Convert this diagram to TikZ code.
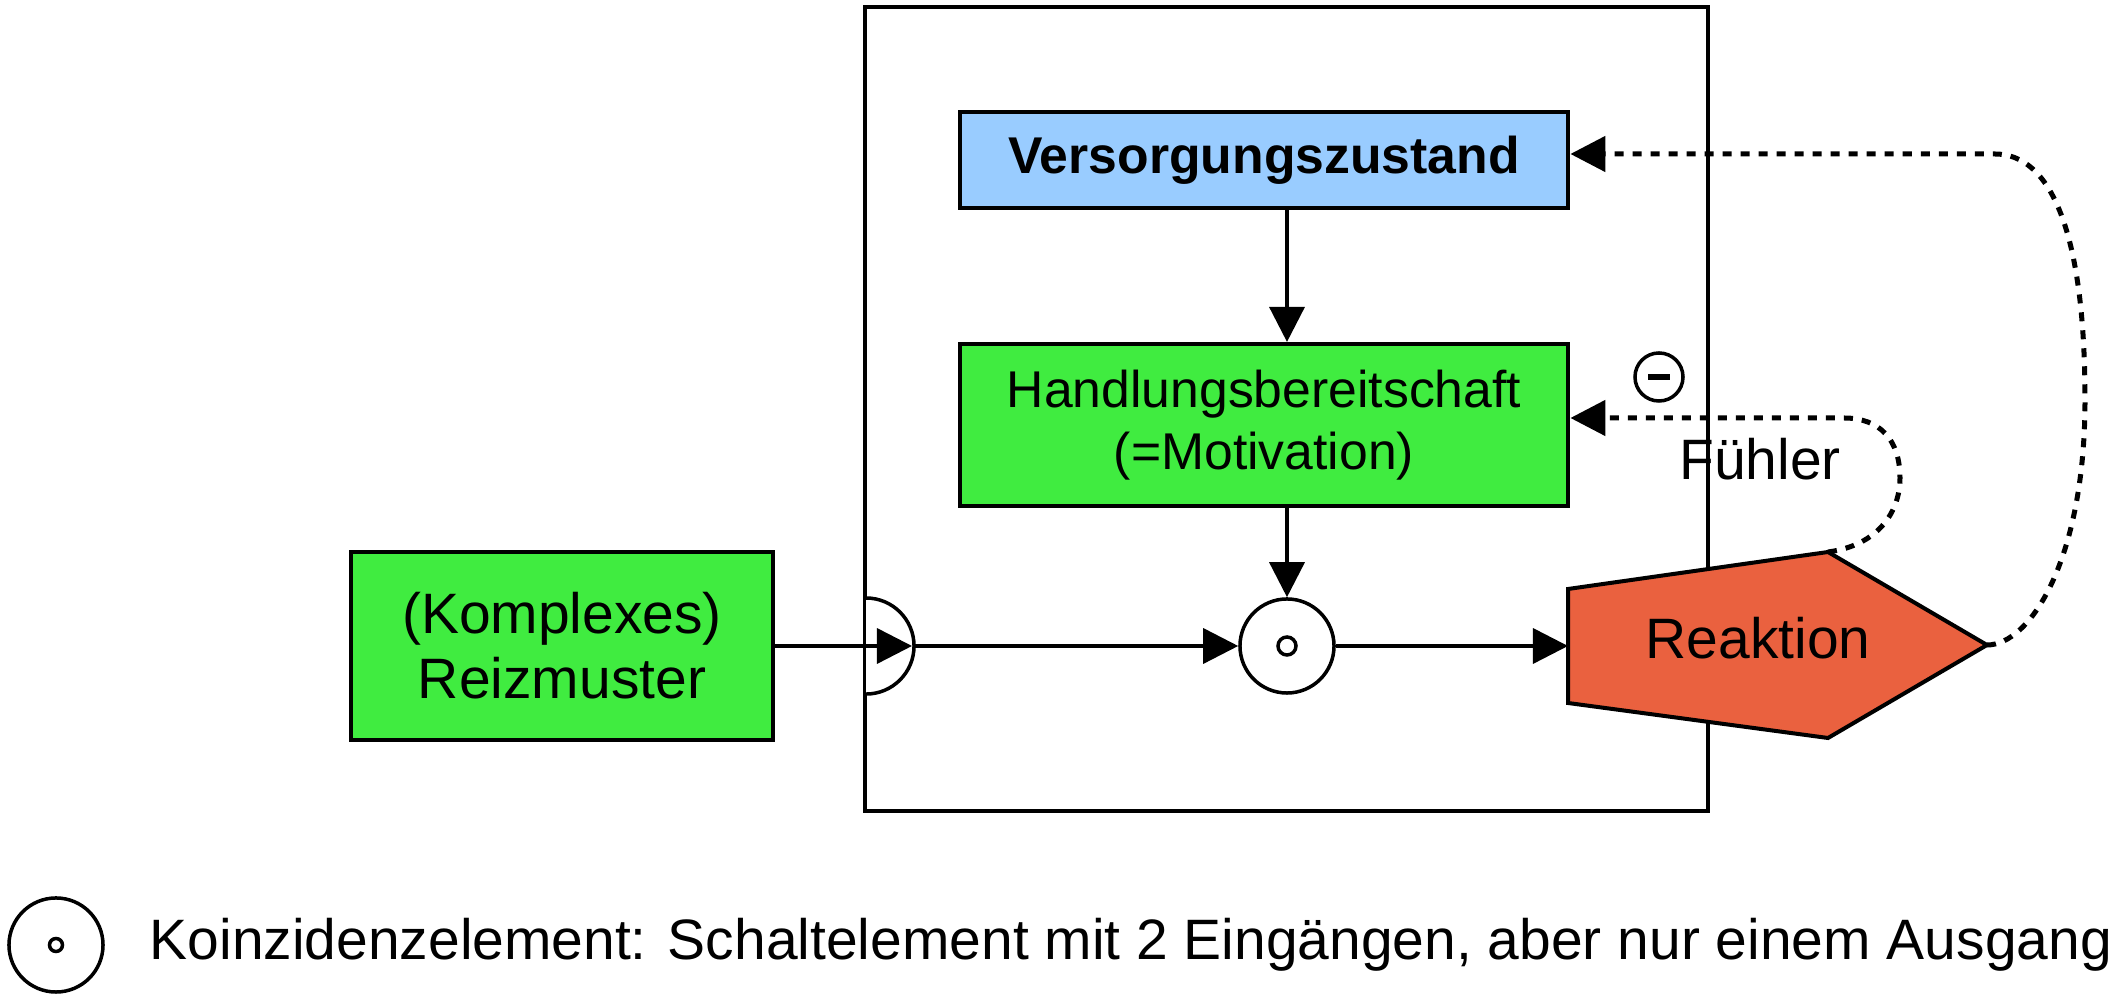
\documentclass[tikz,border=0pt]{standalone}
\usepackage{fontspec}
\setmainfont{Liberation Sans}
\usetikzlibrary{arrows.meta,calc}

\definecolor{reizgreen}{HTML}{40EC40}
\definecolor{versorgblue}{HTML}{99CCFF}
\definecolor{reaktionred}{HTML}{EA613F}

\newcommand\bigfont{\fontsize{16.2}{18.5}\selectfont}
\newcommand\boxfont{\fontsize{14.7}{17.6}\selectfont}
\newcommand\defreaktion{%
      \coordinate (r1) at (1568, 589);
      \coordinate (r2) at (1828, 552);
      \coordinate (r3) at (1987, 645);
      \coordinate (r4) at (1828, 738);
      \coordinate (r5) at (1568, 703);
    }
\newcommand\plotkoinz[2]{\draw[line width=0.035cm] (#1) circle (#2);}

\tikzset{
  box/.style={draw, line width=0.04cm, inner sep=0pt, align=center},
  koinz/.style={draw, circle, line width=0.035cm, minimum size=0.94cm, inner sep=0pt},
  conn/.style={line width=0.035cm, -{Triangle[length=0.35cm, width=0.35cm]}},
  fuehler/.style={line width=0.05cm, dash pattern=on 0.09cm off 0.09cm,
    -{Triangle[length=0.35cm, width=0.35cm]}},
}

\begin{document}
\begin{tikzpicture}[x=0.01cm, y=-0.01cm]
      \useasboundingbox (0, 0) rectangle (2120, 1001);

      % Rahmen
      \draw[line width=0.035cm] (865, 7) rectangle (1708, 811);

      % Eingang am Rahmen
      \coordinate (eingang) at (866, 646);
      \fill[white] (866, 598) arc[start angle=90, end angle=-90, radius=0.48cm] -- cycle;
      \draw[line width=0.035cm] (866, 598) arc[start angle=90, end angle=-90, radius=0.48cm];
      \coordinate (eingtip) at (912, 646);
      \coordinate (eingout) at (914, 646);

      % Boxen
      \node[box, fill=versorgblue, minimum width=6.085cm, minimum height=0.96cm, font=\boxfont\bfseries]
        (versorg) at (1264, 160) {Versorgungszustand};
      \node[box, fill=reizgreen, minimum width=6.085cm, minimum height=1.62cm, font=\boxfont]
        (handlung) at (1264, 425) {Handlungsbereitschaft\\(=Motivation)};
      \node[box, fill=reizgreen, minimum width=4.22cm, minimum height=1.88cm, font=\fontsize{16.2}{18.5}\selectfont]
        (reiz) at (562, 646) {(Komplexes)\\Reizmuster};

      % Koinzidenzelement
      \node[koinz] (koinz) at (1287, 646) {};
      \plotkoinz{koinz.center}{0.09cm}

      % Reaktion
      \defreaktion
      \filldraw[fill=reaktionred, line width=0.04cm] (r1) -- (r2) -- (r3) -- (r4) -- (r5) -- cycle;
      \node[anchor=base] (reaktion) at (1758, 659) {\bigfont Reaktion};

      % Verbindungen
      \draw[conn] (reiz.east) -- (eingtip);
      \draw[conn] (eingout) -- (koinz.west);
      \draw[conn] (koinz.east) -- (koinz.east -| r1);
      \draw[conn] (versorg.south -| koinz.center) -- (handlung.north -| koinz.center);
      \draw[conn] (handlung.south -| koinz.center) -- (koinz.north);

      % Rueckkopplungen
      \coordinate (vb) at (1995, 154);
      \coordinate (hb) at (1844, 418);
      \draw[fuehler] (r3) .. controls (2030, 645) and (2085, 560) .. (2085, 400)
        .. controls (2085, 230) and (2050, 154) .. (vb) -- (vb -| versorg.east);
      \draw[fuehler] (r2) .. controls (1880, 545) and (1900, 510) .. (1900, 478)
        .. controls (1900, 440) and (1880, 418) .. (hb) -- (hb -| handlung.east);

      % Minus und Fuehler
      \node[draw, circle, line width=0.035cm, minimum size=0.48cm, inner sep=0pt] (neg) at (1659, 377) {};
      \draw[line width=0.055cm] ($(neg.center)+(-11, 0)$) -- ($(neg.center)+(11, 0)$);
      \node[anchor=base] (fuehlertext) at (1760, 480) {\bigfont Fühler};

      % Legende
      \node[koinz] (legkoinz) at (56, 945) {};
      \plotkoinz{legkoinz.center}{0.065cm}
      \node[anchor=base west, inner sep=0pt] (legtext) at (149, 960)
        {\bigfont Koinzidenzelement: Schaltelement mit 2 Eingängen, aber nur einem Ausgang};
    \end{tikzpicture}
\end{document}
